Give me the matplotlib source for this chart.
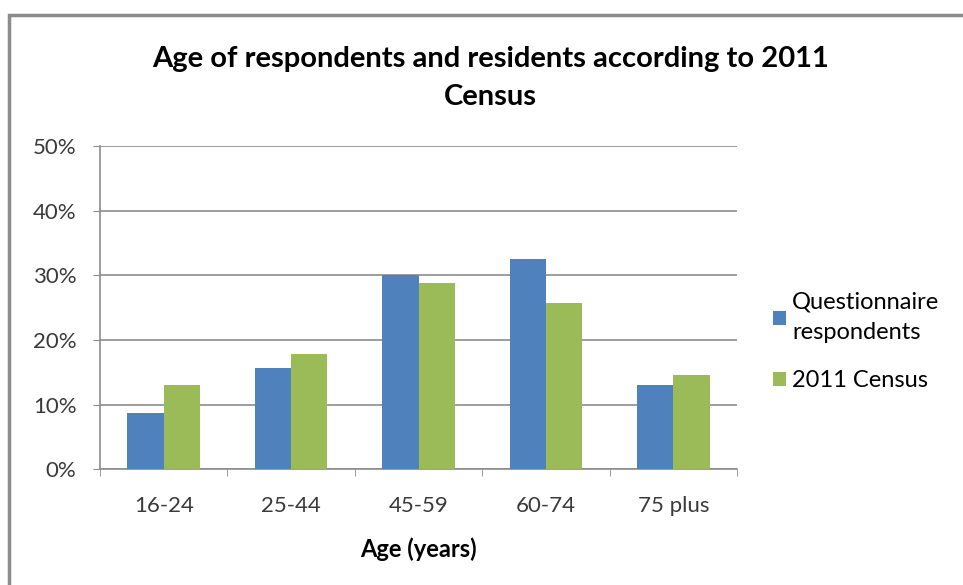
import numpy as np
import matplotlib
matplotlib.use('agg')
import matplotlib.pyplot as plt
from matplotlib.patches import Rectangle
from matplotlib.ticker import PercentFormatter

categories = ['16-24', '25-44', '45-59', '60-74', '75 plus']
respondents = [8.7, 15.6, 30.0, 32.6, 13.0]
census = [13.0, 17.9, 28.9, 25.7, 14.6]
series_names = ['Questionnaire\nrespondents', '2011 Census']

plt.rcParams['font.family'] = ['Lato', 'DejaVu Sans']

fig = plt.figure(figsize=(9.63, 5.85), dpi=100)
ax = fig.add_axes([100 / 963, 0.198, 637 / 963, 0.552])

# outer chart frame
fig.patches.append(Rectangle((9 / 963, -0.05), 1.1, 1 - 15 / 585 + 0.05,
                             transform=fig.transFigure, fill=False,
                             edgecolor='#8c8c8c', linewidth=2.5))

x = np.arange(len(categories))
w = 0.285
ax.bar(x - w / 2, respondents, w, color='#4F81BD', label=series_names[0], zorder=3)
ax.bar(x + w / 2, census, w, color='#9BBB59', label=series_names[1], zorder=3)

ax.set_xlim(-0.5, len(categories) - 0.5)
ax.set_ylim(0, 50)
ax.set_yticks(np.arange(0, 51, 10))
ax.yaxis.set_major_formatter(PercentFormatter(decimals=0))
ax.yaxis.grid(True, color='#8c8c8c', linewidth=1.2)
ax.set_axisbelow(True)

ax.set_xticks(x)
ax.set_xticklabels(categories)
ax.set_xticks(np.arange(-0.5, len(categories)), minor=True)
ax.tick_params(axis='x', which='major', length=0, pad=19, labelsize=16, colors='#3a3a3a')
ax.tick_params(axis='x', which='minor', length=5, color='#8c8c8c')
ax.tick_params(axis='y', length=5, color='#8c8c8c', labelsize=16, labelcolor='#3a3a3a', pad=12)

for s in ['top', 'right']:
    ax.spines[s].set_visible(False)
for s in ['left', 'bottom']:
    ax.spines[s].set_color('#8c8c8c')
    ax.spines[s].set_linewidth(1.2)

ax.set_xlabel('Age (years)', fontsize=17, fontweight='bold', labelpad=16)

fig.text(0.509, 0.867, 'Age of respondents and residents according to 2011\nCensus',
         ha='center', va='center', fontsize=21, fontweight='bold', linespacing=1.6)

leg = ax.legend(loc='center left', bbox_to_anchor=(1.057, 0.395), frameon=False,
                fontsize=17, handlelength=0.55, handleheight=0.55, handletextpad=0.25,
                labelspacing=1.15, borderpad=0, borderaxespad=0)
for t in leg.get_texts():
    t.set_linespacing(1.55)

fig.savefig('out.png', dpi=100)
